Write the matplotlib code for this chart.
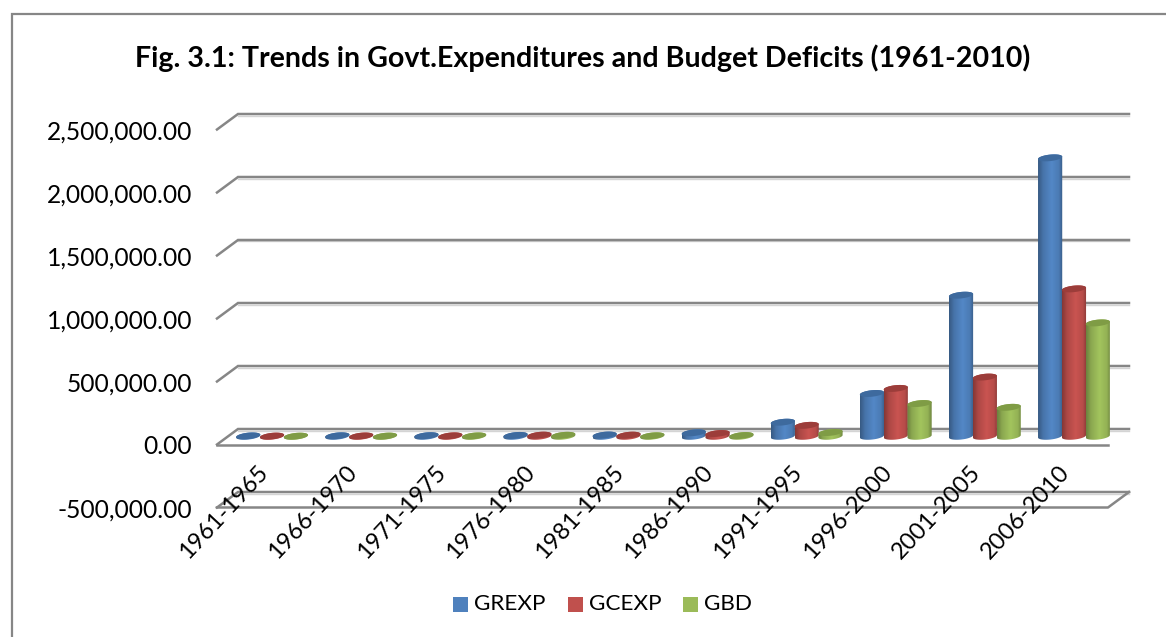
import matplotlib
matplotlib.use("Agg")
import matplotlib.pyplot as plt
from matplotlib.colors import to_rgb
from matplotlib.patches import Polygon, Rectangle
import numpy as np

periods = ["1961-1965", "1966-1970", "1971-1975", "1976-1980", "1981-1985",
           "1986-1990", "1991-1995", "1996-2000", "2001-2005", "2006-2010"]
grexp = [3000, 4000, 5000, 7000, 10000, 28000, 112000, 340000, 1120000, 2210000]
gcexp = [1500, 2500, 3500, 9000, 9000, 22000, 87000, 380000, 470000, 1170000]
gbd = [1000, 1500, 3000, 8000, 4000, 6000, 30000, 260000, 230000, 900000]
series_names = ["GREXP", "GCEXP", "GBD"]
series_values = [grexp, gcexp, gbd]
series_colors = ["#4F81BD", "#C0504D", "#9BBB59"]
top_colors = ["#3E6A9E", "#9C3D3A", "#7F9C45"]
yticks = [-500000, 0, 500000, 1000000, 1500000, 2000000, 2500000]

W, H = 1166, 637
PX_X = 89.1        # pixels per category
PX_Y = 63 / 500000  # pixels per unit of value
X0, Y0 = 217, 444.5  # front corner of the category origin and of zero

fig = plt.figure(figsize=(W / 100, H / 100), dpi=100)
ax = fig.add_axes([0, 0, 1, 1])
ax.set_xlim(-X0 / PX_X, (W - X0) / PX_X)
ax.set_ylim((Y0 - H) / PX_Y, Y0 / PX_Y)
ax.axis("off")

# depth of the 3d floor, in data units
dx = 21 / PX_X
dy = 15.5 / PX_Y
n = len(periods)

# chart frame, only its top and left edges fall inside the figure
ax.add_patch(Rectangle((0.0105, -0.1), 1.1, 1.078, transform=ax.transAxes,
                       fc="white", ec="#868686", lw=1.6, zorder=0))

for v in yticks:
    ax.plot([0, dx, n + dx], [v, v + dy, v + dy], color="#868686", lw=1.8,
            zorder=1, solid_joinstyle="miter")
    ax.plot([dx, n + dx], [v + dy - 1.5 / PX_Y] * 2, color="#D4D4D4", lw=1, zorder=0.9)
    ax.text(-25 / PX_X, v - 2.5 / PX_Y, f"{v:,.2f}", ha="right", va="center", fontsize=17.7,
            family="Lato", color="black")
# front edges of the floor at zero and of the lower wall
ax.plot([0, n], [0, 0], color="#868686", lw=1.8, zorder=1)
ax.plot([0, n, n + dx], [-500000, -500000, -500000 + dy], color="#868686", lw=1.8, zorder=1)

bar_w = 24.2 / PX_X
t = np.linspace(0, 2 * np.pi, 60)
tilt = 1.2 / PX_Y  # the ellipses lean up to the right


def ellipse(cx, cy, height):
    xs = cx + bar_w / 2 * np.cos(t)
    ys = cy + (height / 2 / PX_Y) * np.sin(t) + tilt * np.cos(t)
    return np.column_stack([xs, ys])


def shade(color):
    # horizontal light falloff across the cylinder
    rgb = np.array(to_rgb(color))
    pos = np.linspace(0, 1, 32)
    k = np.interp(pos, [0, 0.2, 0.55, 0.85, 1], [0.70, 0.90, 1.05, 0.95, 0.72])
    return np.clip(rgb[None, None, :] * k[None, :, None], 0, 1)


floor_y = dy / 2 + 3500
for s, (vals, col, top) in enumerate(zip(series_values, series_colors, top_colors)):
    for i, v in enumerate(vals):
        cx = i + 0.5 + dx / 2 + (s - 1) * bar_w * 0.985
        low = ellipse(cx, floor_y, 6.5)
        high = ellipse(cx, floor_y + v, 6.5)
        half = len(t) // 2
        outline = np.vstack([high[:half], low[half:]])
        clip = Polygon(outline, closed=True, transform=ax.transData)
        body = ax.imshow(shade(col), extent=(cx - bar_w / 2, cx + bar_w / 2, floor_y - 6 / PX_Y,
                                             floor_y + v + 6 / PX_Y),
                         aspect="auto", zorder=3 + s * 0.1, interpolation="bilinear")
        body.set_clip_path(clip)
        ax.fill(high[:, 0], high[:, 1], color=top, lw=0, zorder=3.05 + s * 0.1)

for i, name in enumerate(periods):
    ax.text(i + 0.5 - 5 / PX_X, -105000 - 4 / PX_Y, name, rotation=47, rotation_mode="anchor",
            ha="right", va="top", fontsize=17, family="Lato", color="black", zorder=5)

ax.set_xlim(-X0 / PX_X, (W - X0) / PX_X)
ax.set_ylim((Y0 - H) / PX_Y, Y0 / PX_Y)

fig.text(583 / W, 1 - 58 / H, "Fig. 3.1: Trends in Govt.Expenditures and Budget Deficits (1961-2010)",
         ha="center", va="center", fontsize=20.6, family="Lato", fontweight="bold")

# legend laid out by hand along the bottom edge
for name, col, xp, xt in zip(series_names, series_colors, [453, 568, 683], [474, 589, 704]):
    fig.patches.append(Rectangle((xp / W, 1 - 612 / H), 15 / W, 15 / H, transform=fig.transFigure,
                                 fc=col, ec="none"))
    fig.text(xt / W, 1 - 604.5 / H, name, ha="left", va="center", fontsize=16.2, family="Lato")

fig.savefig("out.png", dpi=100)
